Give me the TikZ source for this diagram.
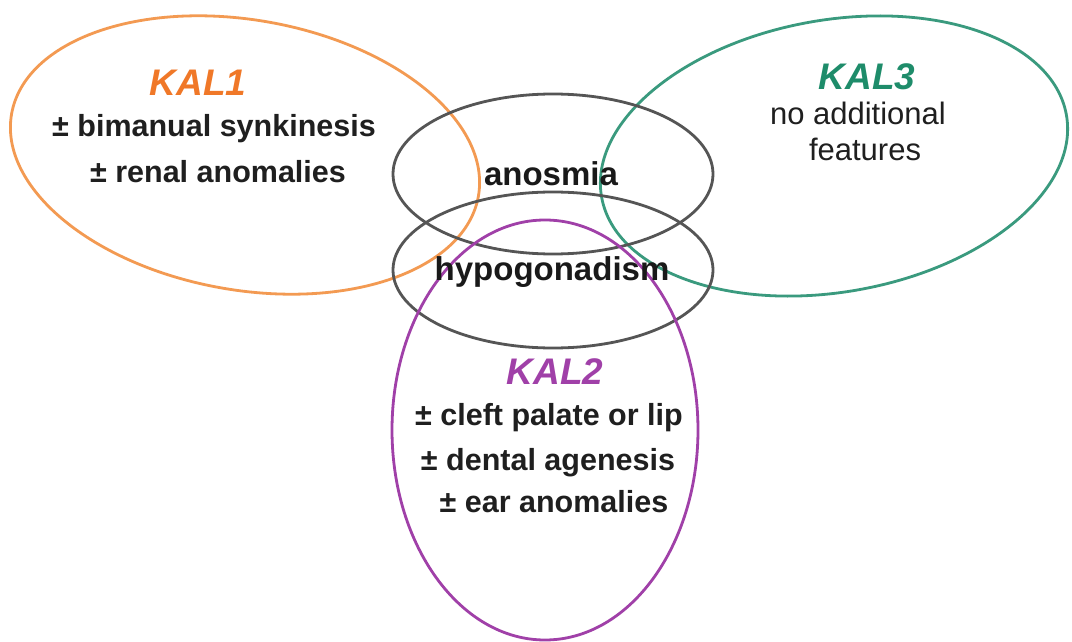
\documentclass[tikz,border=0pt]{standalone}
\usepackage{fontspec}
\setmainfont{Liberation Sans}
\usetikzlibrary{shapes.geometric}
\definecolor{kalorange}{HTML}{F07828}
\definecolor{kalorangeline}{HTML}{F39A52}
\definecolor{kalteal}{HTML}{1E8C6A}
\definecolor{kaltealline}{HTML}{3A9A7E}
\definecolor{kalpurple}{HTML}{A040A8}
\definecolor{kalgray}{HTML}{555555}
\tikzset{
  ring/.style={draw, ellipse, inner sep=0pt, outer sep=0pt, line width=2.8pt},
  title/.style={font=\fontsize{37}{40}\selectfont\bfseries\itshape, inner sep=0pt},
  featb/.style={font=\fontsize{30.5}{34}\selectfont\bfseries, text=black!88, inner sep=0pt},
  featr/.style={font=\fontsize{31}{34}\selectfont, text=black!88, inner sep=0pt},
  core/.style={font=\fontsize{33}{36}\selectfont\bfseries, text=black!90, inner sep=0pt},
}
\begin{document}
\begin{tikzpicture}[x=1pt,y=-1pt]
\fill[white] (0,0) rectangle (1072,642);
\useasboundingbox (0,0) rectangle (1072,642);
% ellipses
\node[ring, draw=kalorangeline, minimum width=474pt, minimum height=270pt, rotate=-10] (e1) at (245,155) {};
\node[ring, draw=kaltealline, minimum width=472pt, minimum height=272pt, rotate=10] (e3) at (834,156) {};
\node[ring, draw=kalgray, minimum width=320pt, minimum height=160pt] (ea) at (553,174) {};
\node[ring, draw=kalgray, minimum width=320pt, minimum height=156pt] (eh) at (553,270) {};
\node[ring, draw=kalpurple, minimum width=306pt, minimum height=420pt] (e2) at (545,430) {};
% KAL1
\node[title, text=kalorange] (t1) at (198,83) {KAL1};
\node[featb] (t1a) at (214,129) {± bimanual synkinesis};
\node[featb] (t1b) at (218,172) {± renal anomalies};
% KAL3
\node[title, text=kalteal] (t3) at (867,77) {KAL3};
\node[featr] (t3a) at (858,113) {no additional};
\node[featr] (t3b) at (865,149) {features};
% core
\node[core] (ta) at (551,174) {anosmia};
\node[core] (th) at (552,272) {hypogonadism};
% KAL2
\node[title, text=kalpurple] (t2) at (555,372) {KAL2};
\node[featb] (t2a) at (549,418) {± cleft palate or lip};
\node[featb] (t2b) at (548,463) {± dental agenesis};
\node[featb] (t2c) at (554,502) {± ear anomalies};
\end{tikzpicture}
\end{document}
